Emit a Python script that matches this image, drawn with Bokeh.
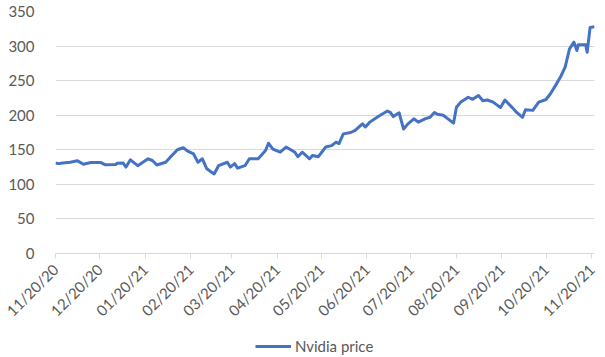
import pandas as pd
from bokeh.plotting import figure
from bokeh.layouts import column
from bokeh.models import Range1d, FixedTicker, DatetimeTickFormatter, Legend, LegendItem, ColumnDataSource
from bokeh.embed import file_html
from bokeh.resources import INLINE
import math

# ---- data ----
dates = [
    "2020-11-20", "2020-11-22", "2020-11-25", "2020-11-30", "2020-12-05", "2020-12-09",
    "2020-12-14", "2020-12-21", "2020-12-24", "2020-12-31", "2021-01-01", "2021-01-05",
    "2021-01-07", "2021-01-10", "2021-01-15", "2021-01-22", "2021-01-25", "2021-01-28",
    "2021-02-03", "2021-02-06", "2021-02-11", "2021-02-15", "2021-02-18", "2021-02-22",
    "2021-02-25", "2021-02-28", "2021-03-03", "2021-03-08", "2021-03-11", "2021-03-17",
    "2021-03-19", "2021-03-22", "2021-03-24", "2021-03-29", "2021-04-01", "2021-04-07",
    "2021-04-12", "2021-04-14", "2021-04-17", "2021-04-22", "2021-04-26", "2021-05-02",
    "2021-05-04", "2021-05-07", "2021-05-12", "2021-05-14", "2021-05-18", "2021-05-23",
    "2021-05-27", "2021-05-30", "2021-06-01", "2021-06-04", "2021-06-09", "2021-06-12",
    "2021-06-17", "2021-06-19", "2021-06-22", "2021-06-28", "2021-07-04", "2021-07-06",
    "2021-07-08", "2021-07-12", "2021-07-15", "2021-07-18", "2021-07-22", "2021-07-25",
    "2021-07-30", "2021-08-02", "2021-08-05", "2021-08-07", "2021-08-11", "2021-08-14",
    "2021-08-18", "2021-08-20", "2021-08-23", "2021-08-28", "2021-08-31", "2021-09-04",
    "2021-09-07", "2021-09-10", "2021-09-14", "2021-09-19", "2021-09-22", "2021-09-27",
    "2021-09-30", "2021-10-04", "2021-10-06", "2021-10-11", "2021-10-15", "2021-10-20",
    "2021-10-23", "2021-10-27", "2021-10-30", "2021-11-02", "2021-11-05", "2021-11-08",
    "2021-11-10", "2021-11-11", "2021-11-16", "2021-11-17", "2021-11-19", "2021-11-22",
]
nvidia_price = [
    131, 130, 131, 132, 134, 129,
    131.5, 131.5, 128.3, 128.7, 130.6, 131,
    125, 135.5, 127, 137, 134.5, 128,
    132, 139, 150, 153, 148, 144,
    132, 137, 122.5, 115, 127, 132,
    125, 130, 123.5, 127, 137, 137,
    149, 159.5, 151, 146.5, 154, 146.5,
    140, 146.5, 137, 141.7, 140, 154,
    156, 161, 159, 173, 175, 178,
    187.5, 183, 190, 198.6, 206, 204,
    198, 203.5, 180, 187.5, 194.8, 190,
    195, 197, 204, 201.5, 200, 195,
    188.5, 211.6, 219, 226, 223, 228.5,
    221, 222, 219, 211, 222, 211,
    204, 197, 208, 207, 219, 222.7,
    231, 245, 256, 269.5, 296, 305.6,
    293.6, 302, 302, 291, 327, 328,
]
tick_dates = [
    "2020-11-20", "2020-12-20", "2021-01-20", "2021-02-20", "2021-03-20", "2021-04-20",
    "2021-05-20", "2021-06-20", "2021-07-20", "2021-08-20", "2021-09-20", "2021-10-20",
    "2021-11-20",
]
y_ticks = [0, 50, 100, 150, 200, 250, 300, 350]
series_name = "Nvidia price"

LINE_COLOR = "#4472C4"
TEXT_COLOR = "#595959"
GRID_COLOR = "#D9D9D9"
FONT = "Lato"
FS = "15px"

# ---- main chart ----
x = pd.to_datetime(dates)
src = ColumnDataSource(dict(x=x, y=nvidia_price))
x_start = pd.Timestamp("2020-11-20")
x_end = pd.Timestamp("2021-11-22")

p = figure(width=605, height=333, x_axis_type="datetime",
           output_backend="svg", toolbar_location=None,
           x_range=Range1d(x_start, x_end), y_range=Range1d(0, 350),
           min_border_left=55, min_border_right=11, min_border_top=11, min_border_bottom=80)
p.outline_line_color = None
p.background_fill_color = "white"
p.border_fill_color = "white"

p.line("x", "y", source=src, line_color=LINE_COLOR, line_width=3, line_join="round")

tick_ms = [pd.Timestamp(d).value // 10**6 for d in tick_dates]
xa = p.xaxis[0]
xa.ticker = FixedTicker(ticks=tick_ms)
xa.formatter = DatetimeTickFormatter(days="%m/%d/%y", months="%m/%d/%y", years="%m/%d/%y")
xa.major_label_orientation = math.pi / 4
xa.axis_line_color = GRID_COLOR
xa.major_tick_line_color = GRID_COLOR
xa.major_tick_out = 5
xa.major_tick_in = 0
xa.minor_tick_line_color = None
xa.major_label_text_color = TEXT_COLOR
xa.major_label_text_font = FONT
xa.major_label_text_font_size = FS
xa.major_label_standoff = 8

p.yaxis.ticker = FixedTicker(ticks=y_ticks)
p.yaxis.axis_line_color = None
p.yaxis.major_tick_line_color = None
p.yaxis.minor_tick_line_color = None
p.yaxis.major_label_text_color = TEXT_COLOR
p.yaxis.major_label_text_font = FONT
p.yaxis.major_label_text_font_size = FS
p.yaxis.major_label_standoff = 15

p.xgrid.grid_line_color = None
p.ygrid.grid_line_color = GRID_COLOR
p.ygrid.grid_line_width = 1
p.ygrid.ticker = FixedTicker(ticks=y_ticks)

# ---- legend strip underneath (its key line uses the same series, outside its empty view) ----
lg = figure(width=605, height=24, output_backend="svg", toolbar_location=None,
            x_axis_type=None, y_axis_type=None,
            x_range=Range1d(0, 1), y_range=Range1d(0, 1),
            min_border_left=0, min_border_right=0, min_border_top=0, min_border_bottom=0)
lg.outline_line_color = None
lg.xgrid.visible = False
lg.ygrid.visible = False
key = lg.line("x", "y", source=src, line_color=LINE_COLOR, line_width=3)
legend = Legend(items=[LegendItem(label=series_name, renderers=[key])],
                location=(200, 2), orientation="horizontal",
                border_line_color=None, background_fill_alpha=0,
                padding=0, margin=0, glyph_width=36, glyph_height=14,
                label_height=14, label_standoff=4,
                label_text_font=FONT, label_text_font_size=FS,
                label_text_color=TEXT_COLOR)
lg.add_layout(legend, "center")

layout = column(p, lg, spacing=0)
open("out.html", "w").write(file_html(layout, INLINE))
